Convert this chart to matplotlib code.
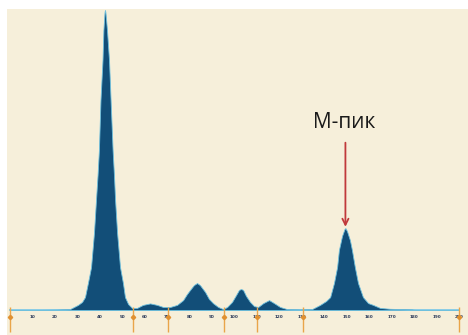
import matplotlib.pyplot as plt

# scan position (0..200) and optical density (0..100)
scan_x = [0, 13.4, 22.3, 26.7, 30.3, 32.1, 33.4, 34.7, 36.1, 37.4, 38.3, 39.0, 39.6,
          40.3, 41.2, 41.6, 42.1, 42.3, 42.5, 43.2, 44.1, 44.8, 45.7, 46.3, 46.8,
          47.7, 49.0, 50.3, 51.2, 52.6, 54.3, 56.6, 59.2, 62.4, 65.5, 68.2, 71.3,
          74.4, 77.1, 78.8, 80.2, 81.9, 83.3, 84.6, 86.9, 88.6, 90.4, 92.7, 94.9,
          96.7, 98.9, 100.7, 102.0, 102.9, 103.8, 105.1, 106.9, 108.7, 110.5, 112.8,
          115.4, 117.6, 120.3, 123.4, 129.2, 134.5, 138.1, 140.8, 142.6, 144.3,
          145.7, 146.5, 147.9, 149.0, 149.4, 150.1, 151.4, 152.3, 153.6, 155.0,
          157.2, 159.5, 161.7, 164.8, 169.3, 179.1, 180.4, 200]
density = [0, 0, 0.2, 0.3, 1.7, 2.7, 4.3, 9, 14.3, 25.7, 36.7, 45, 53.3,
           70, 83.3, 93.3, 99.3, 100, 99.3, 93.3, 83.3, 70, 53.3, 45, 36.7,
           25.7, 14.3, 9, 4.3, 2, 0.7, 0.7, 1.7, 2.2, 1.7, 1, 1,
           1.7, 3.3, 5.3, 6.7, 8.3, 9, 8.3, 6, 3.7, 2.3, 1, 0.3,
           1, 2.7, 5, 6.7, 7, 6.7, 4.7, 2.7, 1.3, 1, 2.3,
           3.3, 2.3, 1, 0.3, 0.2, 0.3, 1.7, 3, 4.3, 9,
           14.3, 20, 24.7, 27, 27.3, 26.3, 23.3, 20, 14.3, 9,
           4.3, 2.3, 1.7, 0.7, 0.4, 0.2, 0, 0]

tick_values = list(range(10, 201, 10))
fraction_marks = [0, 54.8, 70.2, 95.3, 110, 130.5, 200]

peak_label = "М-пик"
peak_x = 149.4
peak_y = 27.3

fig = plt.figure(figsize=(4.68, 3.35), dpi=100)
fig.patch.set_facecolor('white')
ax = fig.add_axes([7 / 468, 0, 461 / 468, 326 / 335])
ax.set_facecolor('#F6EFDA')
for s in ax.spines.values():
    s.set_visible(False)
ax.set_xticks([])
ax.set_yticks([])
ax.set_xlim(-1.34, 204.0)
ax.set_ylim(-8.33, 100.33)

ax.fill_between(scan_x, density, 0, color='#124E78', edgecolor='#6FC0DD',
                linewidth=0.6, zorder=3)
ax.plot([0, 200], [0, 0], color='#8ACDE6', lw=1.4, zorder=2)

for v in tick_values:
    ax.text(v, -2.4, str(v), fontsize=3.0, color='#2B3A5A', ha='center',
            va='center', fontweight='bold')

ax.vlines(fraction_marks, -7.2, 1.0, color='#E9A54A', lw=1.0, zorder=4)
ax.plot(fraction_marks, [-2.4] * len(fraction_marks), 'D', ms=2.2,
        color='#E09030', zorder=5)

ax.annotate('', xy=(peak_x, peak_y - 0.5), xytext=(peak_x, 56.7),
            arrowprops=dict(arrowstyle='->', color='#C0393B', lw=1.3,
                            mutation_scale=11), zorder=6)
ax.text(peak_x - 0.5, 62.5, peak_label, fontsize=15, family='Open Sans',
        color='#1A1A1A', ha='center', va='center')

fig.savefig('out.png', dpi=100)
